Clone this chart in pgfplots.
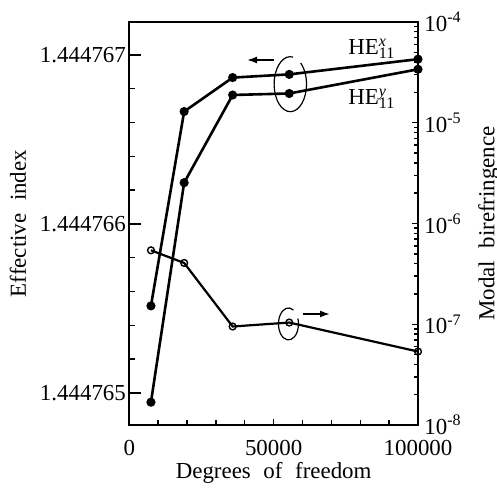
\documentclass[border=0pt]{standalone}
\usepackage{fontspec}
\setmainfont{Liberation Serif}
\usepackage{pgfplots}
\pgfplotsset{compat=1.18}
\usetikzlibrary{arrows.meta}
% effective index values stored as offset from 1.444765 in units of 1e-6
\pgfplotstableread{
dof    nx     ny
7500   0.515  -0.055
19000  1.665  1.244
35800  1.866  1.763
55400  1.885  1.772
100000 1.975  1.915
}\idx
\pgfplotstableread{
dof    B
7500   5.42e-7
19000  4.06e-7
35800  9.5e-8
55400  1.04e-7
100000 5.36e-8
}\bir
\begin{document}
\fontsize{11.5}{13}\selectfont
\begin{tikzpicture}
\pgfplotsset{
  base/.style={
    scale only axis, width=144.35bp, height=201.5bp,
    xmin=0, xmax=100000, scaled x ticks=false,
    tick align=inside,
    axis line style={line width=0.9bp},
    every tick/.style={black, line width=0.7bp},
    tick label style={font=\fontsize{11.5}{13}\selectfont},
    label style={font=\fontsize{11.5}{13}\selectfont},
  },
}
\useasboundingbox (-64.65bp,-33bp) rectangle (183.85bp,212.5bp);
\begin{axis}[base,
  ymin=-0.19, ymax=2.195,
  xtick pos=bottom, ytick pos=left,
  xtick={0,50000,100000}, xticklabels={0,50000,100000},
  minor xtick={10000,20000,30000,40000,60000,70000,80000,90000},
  ytick={0,1,2}, yticklabels={1.444765,1.444766,1.444767},
  minor ytick={0.2,0.4,0.6,0.8,1.2,1.4,1.6,1.8},
  major tick length=6bp, minor tick length=3bp,
  xtick style={/pgfplots/major tick length=3bp,/pgfplots/minor tick length=2.5bp},
  yticklabel style={inner sep=1.5bp},
  xticklabel style={yshift=-3.5bp},
  xlabel={Degrees\hspace{0.3em} of\hspace{0.3em} freedom},
  xlabel style={at={(axis description cs:0.5,-0.119)}, anchor=center},
  ylabel={Effective\hspace{0.3em} index},
  ylabel style={at={(axis description cs:-0.386,0.5)}, anchor=center, rotate=0},
]
\addplot[black, line width=1.3bp, mark=*, mark size=1.6bp] table[x=dof, y=nx] {\idx};
\addplot[black, line width=1.3bp, mark=*, mark size=1.6bp] table[x=dof, y=ny] {\idx};
\node[anchor=base west, inner sep=0pt] at (axis cs:75750,2.0) {HE\rlap{\textsuperscript{\textit{x}}}\textsubscript{11}};
\node[anchor=base west, inner sep=0pt] at (axis cs:75750,1.704) {HE\rlap{\textsuperscript{\textit{y}}}\textsubscript{11}};
\draw[line width=0.8bp, -{Latex[length=5bp,width=3.5bp]}] (axis cs:50100,1.970) -- (axis cs:40770,1.970);
\draw[line width=0.6bp] ([shift={(80:8.1bp and 13.75bp)}]axis cs:55770,1.827) arc[start angle=80, end angle=410, x radius=8.1bp, y radius=13.75bp];
\draw[line width=0.6bp] ([shift={(60:5bp and 8bp)}]axis cs:55140,0.408) arc[start angle=60, end angle=380, x radius=5bp, y radius=8bp];
\draw[line width=0.8bp, -{Latex[length=5bp,width=3.5bp]}] (axis cs:60170,0.467) -- (axis cs:69520,0.467);
\end{axis}
\begin{axis}[base,
  ymode=log, log basis y=10, ymin=1e-8, ymax=1e-4,
  axis x line=none, axis y line*=right,
  ytick={1e-8,1e-7,1e-6,1e-5,1e-4},
  yticklabels={10\textsuperscript{-8},10\textsuperscript{-7},10\textsuperscript{-6},10\textsuperscript{-5},10\textsuperscript{-4}},
  minor ytick={2e-8,3e-8,4e-8,5e-8,6e-8,7e-8,8e-8,9e-8,2e-7,3e-7,4e-7,5e-7,6e-7,7e-7,8e-7,9e-7,2e-6,3e-6,4e-6,5e-6,6e-6,7e-6,8e-6,9e-6,2e-5,3e-5,4e-5,5e-5,6e-5,7e-5,8e-5,9e-5},
  major tick length=3bp, minor tick length=2bp,
  yticklabel style={inner sep=3bp},
  ylabel={Modal\hspace{0.3em} birefringence},
  ylabel style={at={(axis description cs:1.245,0.5)}, anchor=center, rotate=0},
]
\addplot[black, line width=1.1bp, mark=o, mark size=1.7bp, mark options={fill=white, line width=0.7bp}] table[x=dof, y=B] {\bir};
\end{axis}
\end{tikzpicture}
\end{document}
